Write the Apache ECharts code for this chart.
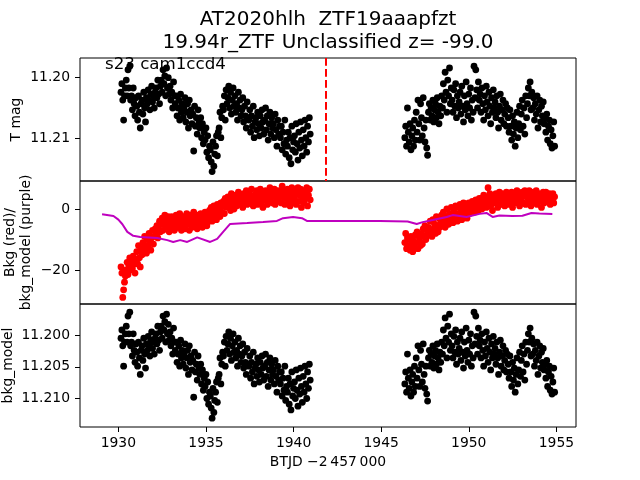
<!DOCTYPE html>
<html><head><meta charset="utf-8">
<script src="https://cdn.jsdelivr.net/npm/echarts@6/dist/echarts.min.js"></script>
<style>html,body{margin:0;padding:0;background:#fff}#c{width:640px;height:480px}</style>
</head><body><div id="c"></div>
<script>
// Observation times (BTJD - 2457000)
const time = [
1930.15,1930.2,1930.25,1930.3,1930.35,1930.4,1930.45,1930.5,1930.55,1930.6,1930.65,1930.7,1930.75,1930.8,1930.85,1930.9,1930.95,
1931,1931.05,1931.1,1931.15,1931.2,1931.25,1931.3,1931.35,1931.4,1931.45,1931.5,1931.55,1931.6,1931.65,1931.7,1931.75,1931.8,1931.85,1931.9,1931.95,
1932,1932.05,1932.1,1932.15,1932.2,1932.25,1932.3,1932.35,1932.4,1932.45,1932.5,1932.55,1932.6,1932.65,1932.7,1932.75,1932.8,1932.85,1932.9,1932.95,
1933,1933.05,1933.1,1933.15,1933.2,1933.25,1933.3,1933.35,1933.4,1933.45,1933.5,1933.55,1933.6,1933.65,1933.7,1933.75,1933.8,1933.85,1933.9,1933.95,
1934,1934.05,1934.1,1934.15,1934.2,1934.25,1934.3,1934.35,1934.4,1934.45,1934.5,1934.55,1934.6,1934.65,1934.7,1934.75,1934.8,1934.85,1934.9,1934.95,
1935,1935.05,1935.1,1935.15,1935.2,1935.25,1935.3,1935.35,1935.4,1935.45,1935.5,1935.55,1935.6,1935.65,1935.7,1935.75,1935.8,1935.85,1935.9,1935.95,
1936,1936.05,1936.1,1936.15,1936.2,1936.25,1936.3,1936.35,1936.4,1936.45,1936.5,1936.55,1936.6,1936.65,1936.7,1936.75,1936.8,1936.85,1936.9,1936.95,
1937,1937.05,1937.1,1937.15,1937.2,1937.25,1937.3,1937.35,1937.4,1937.45,1937.5,1937.55,1937.6,1937.65,1937.7,1937.75,1937.8,1937.85,1937.9,1937.95,
1938,1938.05,1938.1,1938.15,1938.2,1938.25,1938.3,1938.35,1938.4,1938.45,1938.5,1938.55,1938.6,1938.65,1938.7,1938.75,1938.8,1938.85,1938.9,1938.95,
1939,1939.05,1939.1,1939.15,1939.2,1939.25,1939.3,1939.35,1939.4,1939.45,1939.5,1939.55,1939.6,1939.65,1939.7,1939.75,1939.8,1939.85,1939.9,1939.95,
1940,1940.05,1940.1,1940.15,1940.2,1940.25,1940.3,1940.35,1940.4,1940.45,1940.5,1940.55,1940.6,1940.65,1940.7,1940.75,1940.8,1940.85,1940.9,1940.95,
1946.35,1946.4,1946.45,1946.5,1946.55,1946.6,1946.65,1946.7,1946.75,1946.8,1946.85,1946.9,1946.95,
1947,1947.05,1947.1,1947.15,1947.2,1947.25,1947.3,1947.35,1947.4,1947.45,1947.5,1947.55,1947.6,1947.65,1947.7,1947.75,1947.8,1947.85,1947.9,1947.95,
1948,1948.05,1948.1,1948.15,1948.2,1948.25,1948.3,1948.35,1948.4,1948.45,1948.5,1948.55,1948.6,1948.65,1948.7,1948.75,1948.8,1948.85,1948.9,1948.95,
1949,1949.05,1949.1,1949.15,1949.2,1949.25,1949.3,1949.35,1949.4,1949.45,1949.5,1949.55,1949.6,1949.65,1949.7,1949.75,1949.8,1949.85,1949.9,1949.95,
1950,1950.05,1950.1,1950.15,1950.2,1950.25,1950.3,1950.35,1950.4,1950.45,1950.5,1950.55,1950.6,1950.65,1950.7,1950.75,1950.8,1950.85,1950.9,1950.95,
1951,1951.05,1951.1,1951.15,1951.2,1951.25,1951.3,1951.35,1951.4,1951.45,1951.5,1951.55,1951.6,1951.65,1951.7,1951.75,1951.8,1951.85,1951.9,1951.95,
1952,1952.05,1952.1,1952.15,1952.2,1952.25,1952.3,1952.35,1952.4,1952.45,1952.5,1952.55,1952.6,1952.65,1952.7,1952.75,1952.8,1952.85,1952.9,1952.95,
1953,1953.05,1953.1,1953.15,1953.2,1953.25,1953.3,1953.35,1953.4,1953.45,1953.5,1953.55,1953.6,1953.65,1953.7,1953.75,1953.8,1953.85,1953.9,1953.95,
1954,1954.05,1954.1,1954.15,1954.2,1954.25,1954.3,1954.35,1954.4,1954.45,1954.5,1954.55,1954.6,1954.65,1954.7,1954.75,1954.8,1954.85,1954.9
];

// T mag (top panel)
const tmag = [
11.2024,11.2010,11.2037,11.2070,11.2030,11.2017,
11.2004,11.2030,11.1987,11.2017,11.1981,11.2037,
11.2030,11.2053,11.2017,11.2043,11.2063,11.2033,
11.2047,11.2070,11.2030,11.2057,11.2083,11.2043,
11.2037,11.2060,11.2024,11.2050,11.2073,11.2033,
11.2043,11.2020,11.2037,11.2053,11.2027,11.2014,11.2040,11.2030,11.2050,11.2024,
11.2017,11.2033,11.2004,11.2027,11.2043,11.2014,
11.2004,11.2024,11.1987,11.2010,11.1997,11.2030,11.1984,11.2017,11.2000,11.2027,
11.2014,11.2037,11.2024,11.2050,11.2007,11.2030,
11.2043,11.2030,11.2063,11.2050,11.2037,11.2070,11.2027,11.2057,11.2043,11.2066,
11.2050,11.2033,11.2073,11.2057,11.2043,11.2083,11.2037,11.2063,11.2053,11.2076,
11.2060,11.2121,11.2047,11.2080,11.2066,11.2093,11.2053,11.2073,
11.2083,11.2066,11.2099,11.2076,11.2109,11.2090,
11.2103,11.2083,11.2123,11.2096,11.2132,11.2113,
11.2119,11.2139,11.2155,11.2106,11.2146,11.2126,
11.2113,11.2096,11.2129,11.2090,
11.2083,11.2057,11.2099,11.2066,11.2047,
11.2053,11.2030,11.2070,11.2020,11.2043,
11.2033,11.2014,11.2050,11.2024,11.2060,11.2037,11.2017,11.2047,
11.2030,11.2057,11.2043,11.2070,11.2024,11.2050,11.2037,11.2063,
11.2053,11.2033,11.2073,11.2047,11.2063,11.2083,11.2040,11.2066,
11.2070,11.2053,11.2090,11.2063,11.2080,11.2047,11.2099,11.2073,
11.2066,11.2086,11.2057,11.2076,11.2096,11.2063,11.2083,11.2053,11.2073,11.2093,
11.2070,11.2050,11.2086,11.2063,11.2103,11.2076,11.2057,11.2093,11.2066,11.2083,
11.2076,11.2099,11.2060,11.2086,11.2113,11.2070,11.2093,11.2080,
11.2099,11.2080,11.2119,11.2090,11.2109,11.2070,11.2126,11.2103,
11.2113,11.2090,11.2132,11.2099,11.2142,11.2080,11.2119,11.2106,
11.2096,11.2123,11.2076,11.2109,11.2136,11.2090,11.2116,11.2073,11.2103,11.2129,
11.2086,11.2113,11.2070,11.2099,11.2123,11.2080,11.2106,11.2066,11.2093,
11.2099,11.2080,11.2113,11.2050,11.2090,11.2106,
11.2076,11.2119,11.2096,11.2083,11.2113,11.2070,11.2103,
11.2057,11.2090,11.2037,11.2076,11.2103,11.2043,11.2066,11.2096,11.2033,
11.2083,11.2106,11.2070,11.2116,11.2128,
11.2057,11.2043,11.2070,11.2050,11.2063,11.2037,11.2073,11.2053,11.2043,11.2066,11.2033,11.2057,11.2076,11.2047,11.2063,
11.2030,11.2050,11.2010,11.2037,11.1991,11.2024,11.2057,11.2004,11.2030,11.1984,11.2043,11.2017,
11.2037,11.2057,11.2020,11.2047,11.2010,11.2066,11.2030,11.2050,
11.2040,11.2024,11.2060,11.2014,11.2047,11.2073,11.2030,11.2053,11.2007,11.2043,11.2063,11.2027,11.2050,11.2017,11.2070,11.2037,11.2057,
11.1981,11.2033,11.1987,11.2020,11.2050,11.2007,11.2037,
11.2027,11.2057,11.2017,11.2043,11.2070,11.2030,11.2053,11.2014,11.2040,11.2063,11.2024,11.2047,11.2076,11.2033,11.2057,11.2020,11.2050,
11.2040,11.2066,11.2030,11.2057,11.2083,11.2047,11.2027,11.2070,11.2053,11.2037,11.2076,11.2060,11.2043,11.2080,11.2050,
11.2066,11.2090,11.2053,11.2080,11.2103,11.2063,11.2093,11.2073,11.2113,11.2083,11.2057,11.2099,11.2076,11.2047,11.2086,
11.2060,11.2037,11.2080,11.2050,11.2093,11.2030,11.2066,
11.2043,11.2017,11.2030,11.2007,11.2053,11.2024,
11.2050,11.2033,11.2070,11.2043,11.2060,11.2030,11.2083,11.2053,11.2037,11.2073,11.2047,11.2063,11.2040,11.2076,
11.2066,11.2090,11.2060,11.2103,11.2080,11.2070,11.2109,11.2086,11.2116,11.2096,11.2073,11.2113
];

// Background flux (red points, middle panel)
const bkg = [
-19,-21,-29,-26.5,-24,-22,
-20,-17.5,-21.5,-18.5,-16,-20,
-17,-19.5,-15.5,-18,-21,-16.5,
-14,-18,-12,-16,-19,-13,
-15,-11,-13.5,-9,-12,-14.5,
-10,-12.5,-8,-11,-13.5,-9.5,-7,-11.5,-9,-6.5,
-8,-5.5,-9.5,-6.5,-4,-7.5,
-5,-3,-7,-4.5,-2,-6,-3.5,-5.5,-2.5,-7.5,
-4,-6,-2.5,-5,-3,-7,
-4.5,-2,-6,-3.5,-5.5,-1.5,-4,-7,-3,-5,
-2.5,-6.5,-4,-1.5,-5,-3,-7,-2,-4.5,-6,
-3.5,-1,-5.5,-2.5,-4.5,-6.5,-2,-4,
-5,-1.5,-3,-6,-2.5,-4.5,
-1,-3.5,-5.5,-2,-4,-0.5,
-2.5,0.5,-4,-1.5,1,-3,
-0.5,-3.5,1.5,-2,
0,-2.5,2,-1,1,
2.5,-1.5,3.5,0.5,2,
4,1,3,-0.5,5,2,3.5,0,
2.5,4.5,1,3,5.5,1.5,4,2,
3.5,0.5,5,2.5,4,6,1.5,3,
5,2,4,6.5,3,1,4.5,2.5,
4,6,1.5,5,3,6.5,2,4.5,0.5,5.5,
3,6,4,1.5,5,2.5,7,3.5,5.5,2,
4.5,6.5,1.5,5,3,6,2.5,4,
5.5,2,7.5,4,6,1.5,3.5,5,
6.5,3,5,1,4.5,7,2.5,5.5,
3.5,6,1.5,5,7,2.5,4.5,6.5,0.5,4,
6,2,5,3.5,7,1,4.5,6.5,3,
-11,-8,-13,-9.5,-12,-10,
-13.5,-9,-11.5,-14,-10.5,-12.5,-8.5,
-11,-7.5,-13,-9,-10.5,-12,-8,-11.5,-6.5,
-9,-5.5,-10,-7,-8.5,
-6,-8.5,-4,-7,-9,-3.5,-6.5,-5,-8,-2.5,-5.5,-7.5,-3,-6,-4.5,
-2,-5,-1,-4,-6,-2.5,0,-3.5,-5,-1.5,-3,0.5,
-2,-4.5,0,-3,1,-1.5,-4,0.5,
-2.5,1.5,-1,-3.5,0,2,-2,-0.5,1,-3,0.5,2,-1.5,1.5,-0.5,2.5,0,
1.5,-1,3,0.5,2,-0.5,3.5,
1,3.5,0,2.5,4.5,1.5,3,0.5,4,7,2,5,1,3.5,-0.5,2.5,4.5,
2,5,3,0.5,4,5.5,1.5,3.5,5,2.5,4.5,1,3,5.5,2,
4,1.5,5,3,5.5,0.5,3.5,5,2,4.5,6,2.5,4,1,5,
3,5.5,2,4.5,6,1.5,4,
5,2.5,6,3.5,1,4.5,
3,5.5,2,4,6,1.5,3.5,5,2.5,4.5,0.5,3,5.5,2,
4,5.5,2.5,4.5,3,5,1.5,4,3.5,5,2,4
];

// bkg_model magnitudes (bottom panel)
const bkgModelMag = [
11.2005,11.1992,11.2017,11.2049,11.2011,11.1998,
11.1986,11.2011,11.1970,11.1998,11.1964,11.2017,
11.2011,11.2033,11.1998,11.2024,11.2043,11.2014,
11.2027,11.2049,11.2011,11.2036,11.2062,11.2024,
11.2017,11.2040,11.2005,11.2030,11.2052,11.2014,
11.2024,11.2002,11.2017,11.2033,11.2008,11.1995,11.2021,11.2011,11.2030,11.2005,
11.1998,11.2014,11.1986,11.2008,11.2024,11.1995,
11.1986,11.2005,11.1970,11.1992,11.1979,11.2011,11.1967,11.1998,11.1983,11.2008,
11.1995,11.2017,11.2005,11.2030,11.1989,11.2011,
11.2024,11.2011,11.2043,11.2030,11.2017,11.2049,11.2008,11.2036,11.2024,11.2046,
11.2030,11.2014,11.2052,11.2036,11.2024,11.2062,11.2017,11.2043,11.2033,11.2055,
11.2040,11.2098,11.2027,11.2058,11.2046,11.2071,11.2033,11.2052,
11.2062,11.2046,11.2077,11.2055,11.2087,11.2068,
11.2081,11.2062,11.2100,11.2074,11.2109,11.2090,
11.2096,11.2115,11.2131,11.2084,11.2122,11.2103,
11.2090,11.2074,11.2106,11.2068,
11.2062,11.2036,11.2077,11.2046,11.2027,
11.2033,11.2011,11.2049,11.2002,11.2024,
11.2014,11.1995,11.2030,11.2005,11.2040,11.2017,11.1998,11.2027,
11.2011,11.2036,11.2024,11.2049,11.2005,11.2030,11.2017,11.2043,
11.2033,11.2014,11.2052,11.2027,11.2043,11.2062,11.2021,11.2046,
11.2049,11.2033,11.2068,11.2043,11.2058,11.2027,11.2077,11.2052,
11.2046,11.2065,11.2036,11.2055,11.2074,11.2043,11.2062,11.2033,11.2052,11.2071,
11.2049,11.2030,11.2065,11.2043,11.2081,11.2055,11.2036,11.2071,11.2046,11.2062,
11.2055,11.2077,11.2040,11.2065,11.2090,11.2049,11.2071,11.2058,
11.2077,11.2058,11.2096,11.2068,11.2087,11.2049,11.2103,11.2081,
11.2090,11.2068,11.2109,11.2077,11.2118,11.2058,11.2096,11.2084,
11.2074,11.2100,11.2055,11.2087,11.2112,11.2068,11.2093,11.2052,11.2081,11.2106,
11.2065,11.2090,11.2049,11.2077,11.2100,11.2058,11.2084,11.2046,11.2071,
11.2077,11.2058,11.2090,11.2030,11.2068,11.2084,
11.2055,11.2096,11.2074,11.2062,11.2090,11.2049,11.2081,
11.2036,11.2068,11.2017,11.2055,11.2081,11.2024,11.2046,11.2074,11.2014,
11.2062,11.2084,11.2049,11.2093,11.2104,
11.2036,11.2024,11.2049,11.2030,11.2043,11.2017,11.2052,11.2033,11.2024,11.2046,11.2014,11.2036,11.2055,11.2027,11.2043,
11.2011,11.2030,11.1992,11.2017,11.1973,11.2005,11.2036,11.1986,11.2011,11.1967,11.2024,11.1998,
11.2017,11.2036,11.2002,11.2027,11.1992,11.2046,11.2011,11.2030,
11.2021,11.2005,11.2040,11.1995,11.2027,11.2052,11.2011,11.2033,11.1989,11.2024,11.2043,11.2008,11.2030,11.1998,11.2049,11.2017,11.2036,
11.1964,11.2014,11.1970,11.2002,11.2030,11.1989,11.2017,
11.2008,11.2036,11.1998,11.2024,11.2049,11.2011,11.2033,11.1995,11.2021,11.2043,11.2005,11.2027,11.2055,11.2014,11.2036,11.2002,11.2030,
11.2021,11.2046,11.2011,11.2036,11.2062,11.2027,11.2008,11.2049,11.2033,11.2017,11.2055,11.2040,11.2024,11.2058,11.2030,
11.2046,11.2068,11.2033,11.2058,11.2081,11.2043,11.2071,11.2052,11.2090,11.2062,11.2036,11.2077,11.2055,11.2027,11.2065,
11.2040,11.2017,11.2058,11.2030,11.2071,11.2011,11.2046,
11.2024,11.1998,11.2011,11.1989,11.2033,11.2005,
11.2030,11.2014,11.2049,11.2024,11.2040,11.2011,11.2062,11.2033,11.2017,11.2052,11.2027,11.2043,11.2021,11.2055,
11.2046,11.2068,11.2040,11.2081,11.2058,11.2049,11.2087,11.2065,11.2093,11.2074,11.2052,11.2090
];

// bkg_model curve (purple line, middle panel)
const modelTime = [1929.07,1929.72,1930.0,1930.23,1930.51,1930.85,1931.25,1932.22,1932.79,1933.13,1933.53,1933.93,1934.5,1935.24,1935.64,1935.98,1936.38,1937.35,1938.26,1939.05,1939.4,1939.97,1940.48,1940.76,1944.92,1946.51,1947.03,1947.37,1947.94,1948.74,1949.08,1949.87,1950.62,1951.01,1951.36,1951.75,1952.49,1953.06,1953.58,1954.03,1954.77];
const modelBkg = [-1.7,-2.3,-3.5,-5.0,-7.5,-8.8,-9.2,-9.5,-10.2,-10.8,-10.2,-10.8,-9.3,-10.8,-9.8,-7.5,-4.9,-4.6,-4.3,-3.9,-3.0,-2.6,-3.0,-3.9,-3.9,-4.1,-4.9,-4.3,-3.6,-2.6,-2.0,-2.6,-1.6,-1.3,-2.6,-2.1,-2.3,-2.2,-1.3,-1.5,-1.6];

// vertical marker (red dashed) in top panel
const markerTime = [1941.84];

// ticks
const xTicks = [1930, 1935, 1940, 1945, 1950, 1955];
const tmagTicks = [11.20, 11.21];
const bkgTicks = [-20, 0];
const modelTicks = [11.200, 11.205, 11.210];

const FONT = 'DejaVu Sans';
const FS = 13.9;
const DOT = 6.8;
const chart = echarts.init(document.getElementById('c'), null, {renderer: 'canvas'});

function grid(top) {
  return {left: 80, right: 64, top: top, height: 123, show: true, borderColor: '#000', borderWidth: 1, backgroundColor: 'rgba(0,0,0,0)', containLabel: false};
}
function xAx(i, showLabels) {
  return {
    type: 'value', gridIndex: i, min: 1927.81, max: 1956.12,
    axisLine: {show: false}, splitLine: {show: false},
    axisTick: {show: showLabels, customValues: xTicks, length: 5, lineStyle: {color: '#000', width: 1}},
    axisLabel: {show: showLabels, customValues: xTicks, color: '#000', fontFamily: FONT, fontSize: FS, margin: 9.4,
      formatter: v => String(Math.round(v))}
  };
}
function yAx(i, min, max, inverse, ticks, fmt) {
  return {
    type: 'value', gridIndex: i, min: min, max: max, inverse: inverse,
    axisLine: {show: false}, splitLine: {show: false},
    axisTick: {show: true, customValues: ticks, length: 5, lineStyle: {color: '#000', width: 1}},
    axisLabel: {show: true, customValues: ticks, color: '#000', fontFamily: FONT, fontSize: FS, margin: 10, formatter: fmt}
  };
}
const pts = (ys) => time.map((t, k) => [t, ys[k]]);

function txt(x, y, text, size, opts) {
  return Object.assign({
    type: 'text', x: x, y: y, silent: true,
    style: {text: text, fontFamily: FONT, fontSize: size, fill: '#000', align: 'center', verticalAlign: 'middle', lineHeight: size * 1.2}
  }, opts || {});
}

chart.setOption({
  animation: false,
  backgroundColor: '#fff',
  grid: [grid(58), grid(181), grid(304)],
  xAxis: [xAx(0, false), xAx(1, false), xAx(2, true)],
  yAxis: [
    yAx(0, 11.19675, 11.21705, true, tmagTicks, v => v.toFixed(2)),
    yAx(1, -31.15, 9.18, false, bkgTicks, v => String(v).replace('-', '\u2212')),
    yAx(2, 11.1951, 11.21449, true, modelTicks, v => v.toFixed(3))
  ],
  series: [
    {type: 'scatter', xAxisIndex: 0, yAxisIndex: 0, data: pts(tmag), symbol: 'circle', symbolSize: DOT,
      itemStyle: {color: '#000', opacity: 1}, silent: true,
      markLine: {silent: true, symbol: 'none', label: {show: false},
        lineStyle: {color: '#ff0000', width: 2, type: [7.7, 3.3], opacity: 1},
        data: markerTime.map(t => ({xAxis: t}))}},
    {type: 'scatter', xAxisIndex: 1, yAxisIndex: 1, data: pts(bkg), symbol: 'circle', symbolSize: DOT,
      itemStyle: {color: '#ff0000', opacity: 1}, silent: true, z: 2},
    {type: 'line', xAxisIndex: 1, yAxisIndex: 1, data: modelTime.map((t, k) => [t, modelBkg[k]]),
      showSymbol: false, symbol: 'none', lineStyle: {color: '#bf00bf', width: 2}, itemStyle: {color: '#bf00bf'}, silent: true, z: 3},
    {type: 'scatter', xAxisIndex: 2, yAxisIndex: 2, data: pts(bkgModelMag), symbol: 'circle', symbolSize: DOT,
      itemStyle: {color: '#000', opacity: 1}, silent: true}
  ],
  graphic: [
    txt(328, 19.5, 'AT2020hlh  ZTF19aaapfzt', 20),
    txt(328, 42.8, '19.94r_ZTF Unclassified z= -99.0', 20),
    txt(105, 64.5, 's23 cam1ccd4', 16.67, {style: {text: 's23 cam1ccd4', fontFamily: FONT, fontSize: 16.67, fill: '#000', align: 'left', verticalAlign: 'middle'}}),
    txt(16.2, 119.5, 'T mag', FS, {rotation: Math.PI / 2}),
    txt(18.4, 242.5, 'Bkg (red)/\nbkg_model (purple)', FS, {rotation: Math.PI / 2}),
    txt(8, 365.5, 'bkg_model', FS, {rotation: Math.PI / 2}),
    txt(328, 461.9, 'BTJD \u22122\u2009457\u2009000', FS)
  ]
});
</script>
</body></html>
